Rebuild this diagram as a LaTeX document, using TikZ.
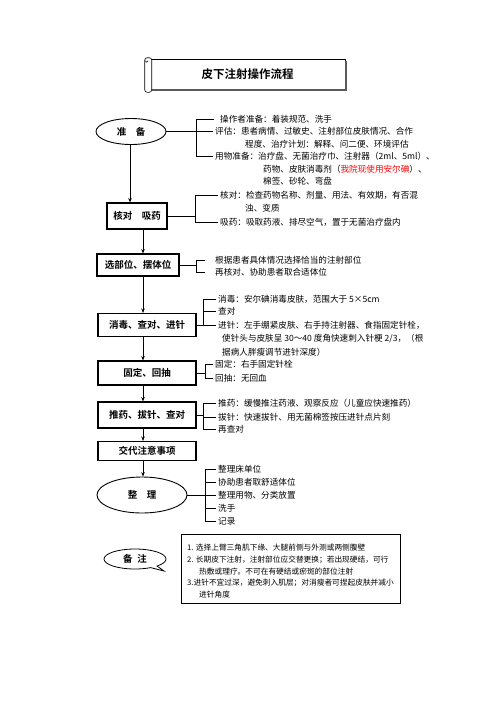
\documentclass[tikz,border=0pt]{standalone}
\usepackage{fontspec}
\setmainfont{Noto Sans CJK SC}[BoldFont={Noto Sans CJK SC Bold}]
\usetikzlibrary{shapes.geometric,shapes.callouts,arrows.meta}
\begin{document}
\begin{tikzpicture}[x=1pt,y=-1pt,
  every node/.style={inner sep=0pt},
  txt/.style={anchor=west,font=\fontsize{8.6}{10}\selectfont},
  ntxt/.style={anchor=west,font=\fontsize{7.7}{9}\selectfont},
  box/.style={draw,line width=1.1pt,font=\bfseries\fontsize{9.5}{11}\selectfont},
  oval/.style={ellipse,draw,line width=0.9pt,font=\bfseries\fontsize{9.5}{11}\selectfont},
  ln/.style={line width=0.8pt},
  arr/.style={ln,-{Stealth[length=4.5pt,width=3.5pt]}}
]
\useasboundingbox (0,0) rectangle (496,702);

% title scroll
\node[draw,line width=0.6pt,minimum width=195pt,minimum height=30pt,
  font=\bfseries\fontsize{11.5}{13}\selectfont] (title) at (247.5,74) {皮下注射操作流程};
\draw[line width=1.8pt,black!65] ([shift={(2pt,-1pt)}]title.south west) -- ([shift={(1pt,-1pt)}]title.south east) -- ([shift={(1pt,-2pt)}]title.north east);
\draw[line width=0.6pt,fill=white,rounded corners=2.5pt] ([shift={(-5pt,1pt)}]title.north west) rectangle ([shift={(2pt,-3pt)}]title.south west);
\draw[line width=0.5pt] ([shift={(-1.5pt,-2pt)}]title.north west) arc[start angle=0,end angle=-180,x radius=1.5pt,y radius=1.5pt];

% main column
\node[oval,minimum width=70pt,minimum height=26pt] (prep) at (131,131.5) {准\hspace{1em}备};
\node[box,minimum width=60pt,minimum height=26pt] (hd) at (137,216) {核对\hspace{1em}吸药};
\node[box,minimum width=82pt,minimum height=22pt] (xb) at (138,265) {选部位、摆体位};
\node[box,minimum width=98pt,minimum height=23pt] (xd) at (147,325) {消毒、查对、进针};
\node[box,minimum width=98pt,minimum height=24pt] (gd) at (147,373) {固定、回抽};
\node[box,minimum width=98pt,minimum height=26pt] (tb) at (147,415) {推药、拔针、查对};
\node[box,minimum width=98pt,minimum height=19pt] (jd) at (147,451) {交代注意事项};
\node[oval,minimum width=90pt,minimum height=36pt] (zl) at (142,495) {整\hspace{1em}理};

\coordinate (c1) at (130,0);
\coordinate (c2) at (143,0);
\draw[arr] (prep.south -| c1) -- (hd.north -| c1);
\draw[arr] (hd.south -| c2) -- (xb.north -| c2);
\draw[arr] (xb.south -| c2) -- (xd.north -| c2);
\draw[arr] (xd.south -| c2) -- (gd.north -| c2);
\draw[arr] (gd.south -| c2) -- (tb.north -| c2);
\draw[arr] (tb.south -| c2) -- (jd.north -| c2);
\draw[arr] (jd.south -| c2) -- (zl.north -| c2);

% preparation
\node[txt] (p1) at (220,119) {操作者准备：着装规范、洗手};
\node[txt] (p2) at (215,131.5) {评估：患者病情、过敏史、注射部位皮肤情况、合作};
\node[txt] (p3) at (245,144) {程度、治疗计划：解释、问二便、环境评估};
\node[txt] (p4) at (215,156.5) {用物准备：治疗盘、无菌治疗巾、注射器（2ml、5ml）、};
\node[txt] (p5) at (263,169) {药物、皮肤消毒剂（\textcolor{red}{我院现使用安尔碘}）、};
\node[txt] (p6) at (263,181.5) {棉签、砂轮、弯盘};
\coordinate (bA) at (196,0);
\draw[ln] (prep.east) -- ([xshift=-2pt]p2.west);
\draw[ln] ([xshift=-6pt]p1.west) -- (bA |- p1.west) -- (bA |- p4.west) -- ([xshift=-2pt]p4.west);

% check and draw
\node[txt] (h1) at (220,195) {核对：检查药物名称、剂量、用法、有效期，有否混};
\node[txt] (h2) at (245,208) {浊、变质};
\node[txt] (h3) at (220,222) {吸药：吸取药液、排尽空气，置于无菌治疗盘内};
\coordinate (bB) at (195,0);
\draw[ln] (hd.east) -- (bB |- hd.east);
\draw[ln] ([xshift=-2pt]h1.west) -- (bB |- h1.west) -- (bB |- h3.west) -- ([xshift=-2pt]h3.west);

% site
\node[txt] (x1) at (215,260) {根据患者具体情况选择恰当的注射部位};
\node[txt] (x2) at (215,272) {再核对、协助患者取合适体位};
\coordinate (bC) at (196,0);
\draw[ln] (xb.east) -- (bC |- xb.east);
\draw[ln] ([xshift=-10pt]x1.west) -- (bC |- x1.west) -- (bC |- x2.west) -- ([xshift=-10pt]x2.west);

% disinfect
\node[txt] (d1) at (218,299) {消毒：安尔碘消毒皮肤，范围大于 5×5cm};
\node[txt] (d2) at (218,311) {查对};
\node[txt] (d3) at (218,325) {进针：左手绷紧皮肤、右手持注射器、食指固定针栓，};
\node[txt] (d4) at (222,339) {使针头与皮肤呈 30～40 度角快速刺入针梗 2/3，（根};
\node[txt] (d5) at (222,352) {据病人胖瘦调节进针深度）};
\coordinate (bD) at (203,0);
\draw[ln] (xd.east) -- ([xshift=-2pt]d3.west);
\draw[ln] ([xshift=-2pt]d1.west) -- (bD |- d1.west) -- (bD |- d3.west);
\draw[ln] (bD |- d2.west) -- ([xshift=-2pt]d2.west);

% fix
\node[txt] (g1) at (215,364) {固定：右手固定针栓};
\node[txt] (g2) at (215,378) {回抽：无回血};
\coordinate (bE) at (205,0);
\draw[ln] (gd.east) -- (bE |- gd.east);
\draw[ln] ([xshift=-2pt]g1.west) -- (bE |- g1.west) -- (bE |- g2.west) -- ([xshift=-2pt]g2.west);

% inject
\node[txt] (t1) at (218,403) {推药：缓慢推注药液、观察反应（儿童应快速推药）};
\node[txt] (t2) at (218,417) {拔针：快速拔针、用无菌棉签按压进针点片刻};
\node[txt] (t3) at (218,429) {再查对};
\coordinate (bF) at (203,0);
\draw[ln] (tb.east) -- (bF |- tb.east);
\draw[ln] ([xshift=-2pt]t1.west) -- (bF |- t1.west) -- (bF |- t3.west) -- ([xshift=-2pt]t3.west);
\draw[ln] (bF |- t2.west) -- ([xshift=-2pt]t2.west);

% tidy
\node[txt] (z1) at (218,469) {整理床单位};
\node[txt] (z2) at (218,482) {协助患者取舒适体位};
\node[txt] (z3) at (218,495) {整理用物、分类放置};
\node[txt] (z4) at (218,508) {洗手};
\node[txt] (z5) at (218,521) {记录};
\coordinate (bG) at (205,0);
\draw[ln] (zl.east) -- ([xshift=-2pt]z3.west);
\draw[ln] ([xshift=-2pt]z1.west) -- (bG |- z1.west) -- (bG |- z5.west) -- ([xshift=-2pt]z5.west);
\draw[ln] (bG |- z2.west) -- ([xshift=-2pt]z2.west);
\draw[ln] (bG |- z4.west) -- ([xshift=-2pt]z4.west);

% notes
\node[ellipse callout,draw,line width=0.8pt,callout absolute pointer={(164,571)},
  minimum width=62pt,minimum height=20pt,font=\bfseries\fontsize{9.5}{11}\selectfont] (bz) at (135,559) {备\hspace{0.5em}注};
\node[draw,line width=0.9pt,minimum width=219pt,minimum height=69pt] (note) at (290.5,568.5) {};
\node[ntxt] (n1) at (187,548) {1. 选择上臂三角肌下缘、大腿前侧与外测或两侧腹壁};
\node[ntxt] (n2) at (187,560) {2. 长期皮下注射，注射部位应交替更换；若出现硬结，可行};
\node[ntxt] (n3) at (199,571.5) {热敷或理疗。不可在有硬结或瘀斑的部位注射};
\node[ntxt] (n4) at (187,583) {3.进针不宜过深，避免刺入肌层；对消瘦者可捏起皮肤并减小};
\node[ntxt] (n5) at (199,594.5) {进针角度};
\end{tikzpicture}
\end{document}
